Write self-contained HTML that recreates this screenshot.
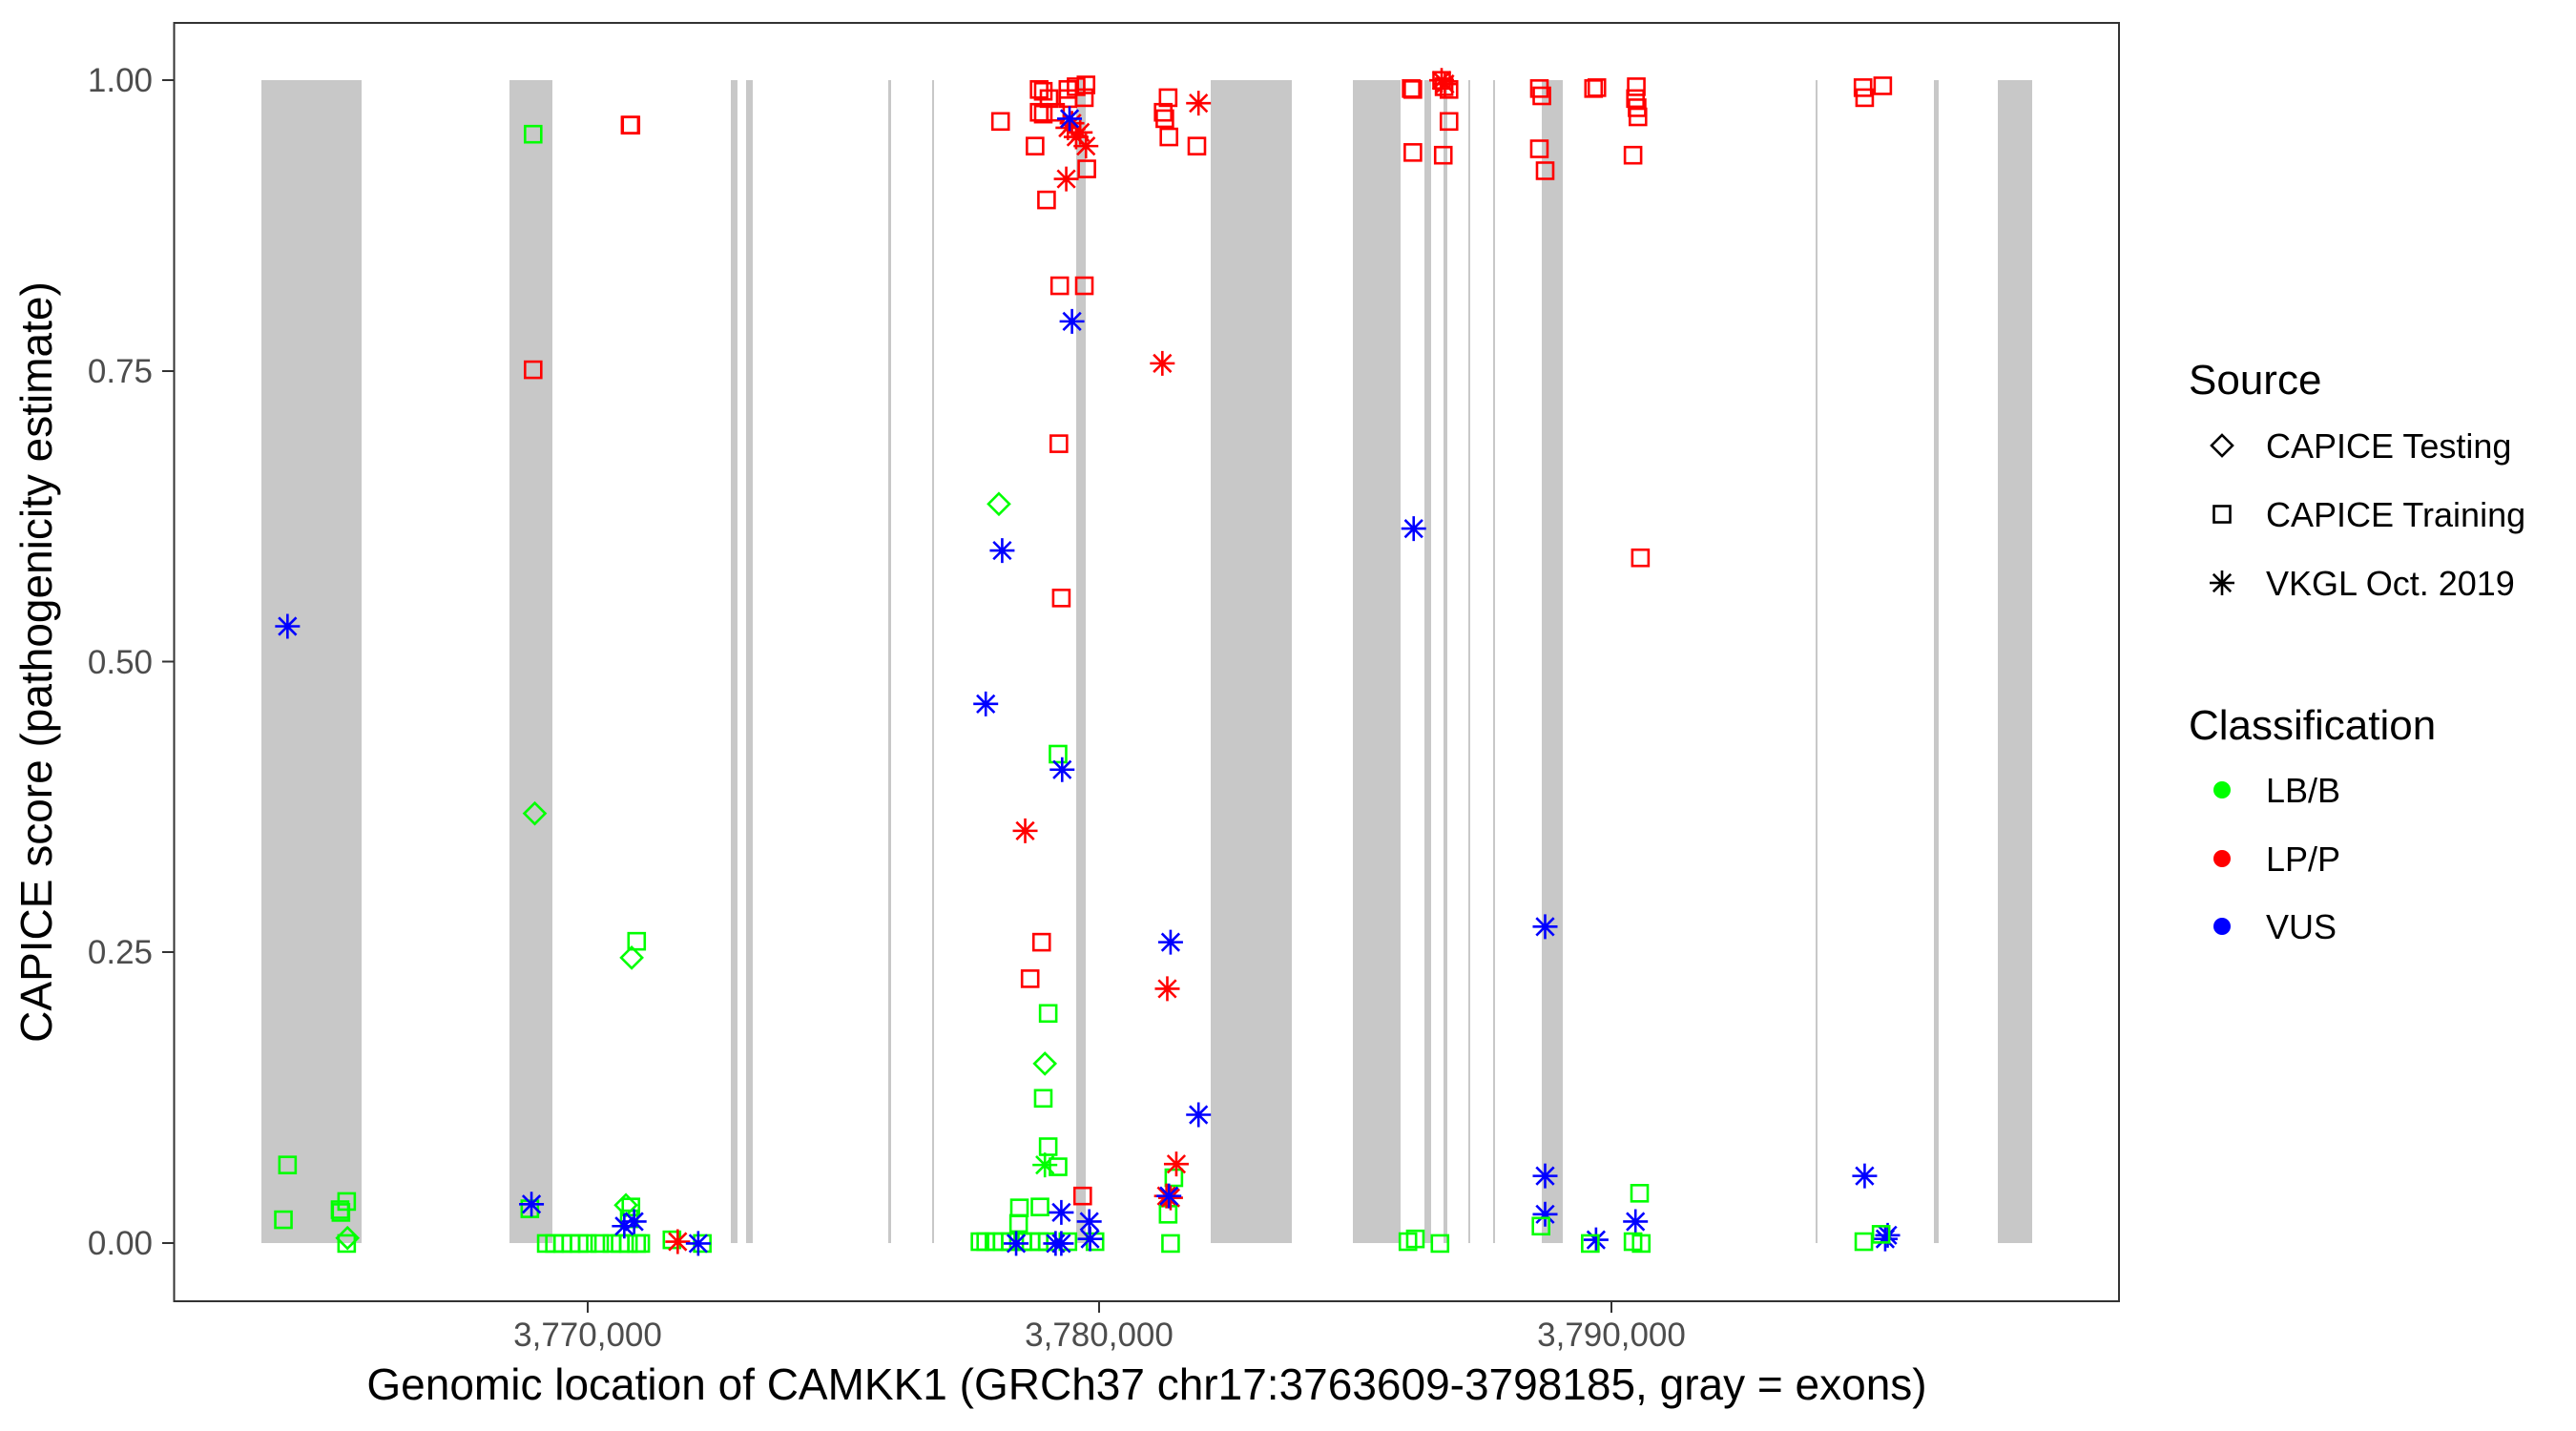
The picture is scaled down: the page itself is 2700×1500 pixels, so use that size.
<!DOCTYPE html>
<html><head><meta charset="utf-8"><style>
html,body{margin:0;padding:0;background:#fff}
svg{display:block}
text{font-family:"Liberation Sans",Arial,sans-serif}
</style></head><body>
<svg id="s" width="2700" height="1500" viewBox="0 0 2700 1500" xmlns="http://www.w3.org/2000/svg">
<rect width="2700" height="1500" fill="#fff"/>
<g id="ex" fill="#c8c8c8"></g>
<g id="pts" fill="none" stroke-width="2.6"></g>
<rect x="182.5" y="24" width="2038.5" height="1340" fill="none" stroke="#333" stroke-width="2"/>
<g stroke="#333" stroke-width="2">
<line x1="170" y1="84" x2="182" y2="84"/><line x1="170" y1="389" x2="182" y2="389"/>
<line x1="170" y1="693.5" x2="182" y2="693.5"/><line x1="170" y1="998" x2="182" y2="998"/>
<line x1="170" y1="1303" x2="182" y2="1303"/>
<line x1="616" y1="1364" x2="616" y2="1376"/><line x1="1152" y1="1364" x2="1152" y2="1376"/><line x1="1689" y1="1364" x2="1689" y2="1376"/>
</g>
<g fill="#4d4d4d" font-size="35" text-anchor="end">
<text x="160" y="96">1.00</text><text x="160" y="401">0.75</text><text x="160" y="706">0.50</text><text x="160" y="1010">0.25</text><text x="160" y="1315">0.00</text>
</g>
<g fill="#4d4d4d" font-size="35" text-anchor="middle">
<text x="616" y="1411">3,770,000</text><text x="1152" y="1411">3,780,000</text><text x="1689" y="1411">3,790,000</text>
</g>
<text x="1202" y="1467" font-size="46" text-anchor="middle" fill="#000">Genomic location of CAMKK1 (GRCh37 chr17:3763609-3798185, gray = exons)</text>
<text transform="translate(54,694) rotate(-90)" font-size="46" text-anchor="middle" fill="#000">CAPICE score (pathogenicity estimate)</text>
<g font-size="44" fill="#000"><text x="2294" y="413">Source</text><text x="2294" y="775">Classification</text></g>
<g font-size="36" fill="#000">
<text x="2375" y="480">CAPICE Testing</text><text x="2375" y="552">CAPICE Training</text><text x="2375" y="624">VKGL Oct. 2019</text>
<text x="2375" y="841">LB/B</text><text x="2375" y="913">LP/P</text><text x="2375" y="984">VUS</text>
</g>
<g id="leg" fill="none" stroke="#000" stroke-width="2.6"></g>
<circle cx="2329" cy="828" r="9" fill="#00ff00"/><circle cx="2329" cy="900" r="9" fill="#ff0000"/><circle cx="2329" cy="971" r="9" fill="#0000ff"/>
</svg>
<script>
var NS="http://www.w3.org/2000/svg";
function el(p,t,a){var e=document.createElementNS(NS,t);for(var k in a)e.setAttribute(k,a[k]);p.appendChild(e);return e;}
var ex=document.getElementById('ex');
[[274,379],[534,579],[766,773],[782,789],[931,934],[977,979],[1128,1138],[1269,1354],[1418,1468],[1493,1500],[1513,1517],[1539,1541],[1565,1567],[1616,1638],[1903,1905],[2027,2032],[2094,2130]].forEach(function(r){el(ex,'rect',{x:r[0],y:84,width:r[1]-r[0],height:1219});});
var C={g:'#00ff00',r:'#ff0000',b:'#0000ff'};
function mark(p,shape,x,y,col){
 if(shape=='S'){el(p,'rect',{x:x-8.5,y:y-8.5,width:17,height:17,stroke:col});}
 else if(shape=='D'){el(p,'path',{d:'M'+x+' '+(y-11)+'L'+(x+11)+' '+y+'L'+x+' '+(y+11)+'L'+(x-11)+' '+y+'Z',stroke:col});}
 else {var r=13,d='';for(var i=0;i<4;i++){var a=Math.PI*i/4;d+='M'+(x-r*Math.cos(a))+' '+(y-r*Math.sin(a))+'L'+(x+r*Math.cos(a))+' '+(y+r*Math.sin(a));}el(p,'path',{d:d,stroke:col});}
}
var pts=document.getElementById('pts');
function z1(s,c,l){l.forEach(function(q){mark(pts,s,q[0]*0.861,q[1]*0.957,C[c]);});}
function z2(s,c,l){l.forEach(function(q){mark(pts,s,1350+q[0]*0.861,q[1]*0.957,C[c]);});}
var row=[];[665,675,685,695,705,715,730,745,755,765,775,780].forEach(function(x){row.push([x,1362]);});
var row2=[];[1193,1200,1210,1220,1230,1245,1255,1265,1275,1300,1333].forEach(function(x){row2.push([x,1360]);});
z1('S','g',[[350,1276],[345,1336],[415,1328],[422,1316],[414,1325],[422,1362],[649,147],[775,1031],[645,1324],[768,1322],[766,1335],[818,1358],[855,1362],[1288,826],[1276,1110],[1270,1203],[1276,1256],[1288,1278],[1241,1323],[1266,1322],[1240,1340],[1429,1290],[1422,1330],[1425,1362]].concat(row,row2));
z1('D','g',[[423,1356],[651,891],[769,1049],[762,1320],[1216,552],[1272,1165]]);
z1('A','g',[[1272,1276]]);
z1('S','r',[[649,405],[767,137],[768,137],[1218,133],[1265,98],[1270,100],[1277,108],[1265,123],[1270,125],[1285,123],[1300,98],[1310,95],[1322,93],[1320,107],[1300,108],[1260,160],[1274,219],[1323,185],[1290,313],[1320,313],[1289,486],[1292,655],[1268,1032],[1254,1072],[1318,1310],[1416,123],[1418,130],[1422,107],[1423,150],[1457,160]]);
z1('A','r',[[825,1360],[1300,140],[1305,135],[1310,150],[1315,145],[1322,160],[1298,196],[1459,113],[1415,398],[1248,910],[1421,1083],[1432,1275],[1425,1312],[1420,1310]]);
z1('A','b',[[350,686],[647,1319],[760,1343],[772,1338],[850,1362],[1302,130],[1305,352],[1220,603],[1200,771],[1293,843],[1425,1032],[1459,1221],[1423,1310],[1292,1328],[1326,1338],[1327,1357],[1237,1362],[1285,1362],[1292,1362]]);
z2('S','r',[[150,97],[152,98],[152,167],[187,88],[190,95],[196,98],[196,133],[189,170],[306,97],[309,105],[306,163],[313,187],[372,97],[376,96],[424,95],[423,108],[425,118],[426,128],[420,170],[700,96],[702,107],[724,94],[429,611]]);
z2('A','r',[[187,88],[191,92]]);
z2('A','b',[[153,579],[313,1015],[313,1288],[313,1330],[375,1358],[423,1338],[702,1288],[727,1357],[730,1353]]);
z2('S','g',[[146,1360],[155,1357],[185,1362],[308,1343],[368,1362],[420,1360],[428,1307],[430,1362],[701,1360],[722,1352]]);
var leg=document.getElementById('leg');
mark(leg,'D',2329,467,'#000');mark(leg,'S',2329,539,'#000');mark(leg,'A',2329,611,'#000');
</script>
</body></html>
